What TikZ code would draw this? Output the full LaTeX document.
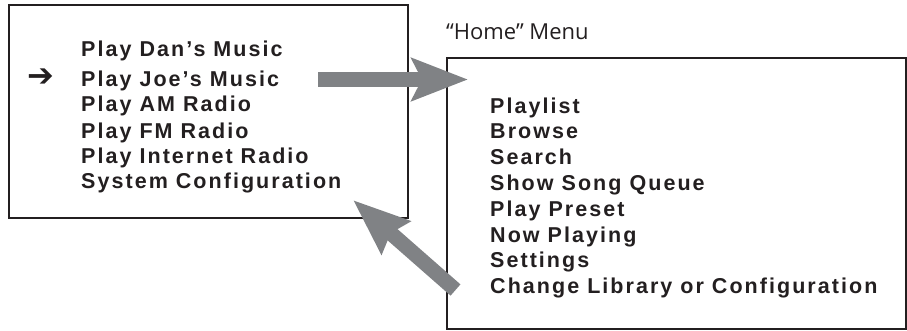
\documentclass[tikz,border=0pt]{standalone}
\usepackage{fontspec}
\setmainfont{Liberation Sans}
\newfontfamily\menufont[LetterSpace=9.5]{Liberation Sans}
\newfontfamily\labelfont{Open Sans}
\newfontfamily\symfont{DejaVu Sans}
\usetikzlibrary{arrows.meta}
\definecolor{arrowgray}{RGB}{128,130,133}
\definecolor{inkblack}{RGB}{35,31,32}
\begin{document}
\begin{tikzpicture}[x=1pt,y=-1pt,
  screen/.style={draw=inkblack,line width=2pt,fill=none,inner sep=0pt,outer sep=0pt},
  item/.style={anchor=base west,inner sep=0pt,text=inkblack,font=\menufont\bfseries\fontsize{21.5}{24}\selectfont},
  bigarrow/.style={draw=arrowgray,line width=15pt,line cap=butt,
    -{Stealth[length=56pt,width=42pt,inset=#1]}}
]
\useasboundingbox (0,0) rectangle (907,330);
% boxes
\node[screen,minimum width=399pt,minimum height=213pt,anchor=north west] (left) at (9,5) {};
\node[screen,minimum width=459pt,minimum height=271pt,anchor=north west] (right) at (447,58) {};
% title
\node[anchor=base west,inner sep=0pt,text=inkblack,font=\labelfont\fontsize{22}{24}\selectfont] (title) at (446,39) {“Home” Menu};
% left menu
\node[item] (l1) at (81,56) {Play Dan’s Music};
\node[item] (l2) at (81,86) {Play Joe’s Music};
\node[item] (l3) at (81,111.5) {Play AM Radio};
\node[item] (l4) at (81,138) {Play FM Radio};
\node[item] (l5) at (81,163) {Play Internet Radio};
\node[item] (l6) at (81,188) {System Configuration};
\node[inner sep=0pt,text=inkblack,font=\symfont\bfseries\fontsize{32}{34}\selectfont] (cursor) at (40.5,77.5) {➔};
% right menu
\node[item] (r1) at (490,113) {Playlist};
\node[item] (r2) at (490,138.5) {Browse};
\node[item] (r3) at (490,164.5) {Search};
\node[item] (r4) at (490,190.5) {Show Song Queue};
\node[item] (r5) at (490,216) {Play Preset};
\node[item] (r6) at (490,242) {Now Playing};
\node[item] (r7) at (490,267.5) {Settings};
\node[item] (r8) at (490,293) {Change Library or Configuration};
% arrows
\coordinate (hs) at (318,79.5);
\coordinate (he) at (468,79.5);
\coordinate (ds) at (455.5,290);
\coordinate (de) at (353,200);
\draw[bigarrow=10pt] (hs) -- (he);
\draw[bigarrow=6pt] (ds) -- (de);
\end{tikzpicture}
\end{document}
